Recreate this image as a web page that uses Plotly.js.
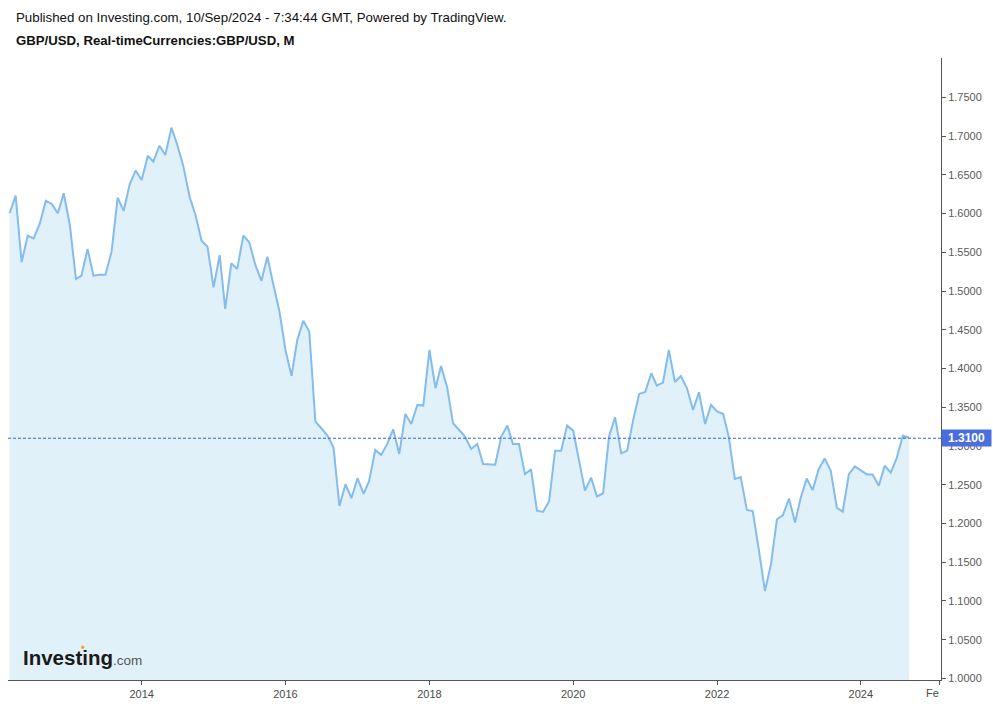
<!DOCTYPE html>
<html>
<head>
<meta charset="utf-8">
<script src="https://cdn.plot.ly/plotly-3.0.1.min.js"></script>
<style>
html,body{margin:0;padding:0;background:#fff;}
#chart{width:993px;height:704px;}
</style>
</head>
<body>
<div id="chart"></div>
<script>
// Monthly GBP/USD closes, Mar 2012 .. Sep 2024
const startYear = 2012;
const startMonth = 3;
const closes = [
  1.6003, 1.6230, 1.5371, 1.5714, 1.5680, 1.5865, 1.6166, 1.6123, 1.6003, 1.6261,           // 2012 Mar-Dec
  1.5852, 1.5155, 1.5198, 1.5543, 1.5198, 1.5211, 1.5211, 1.5508, 1.6205, 1.6033, 1.6377, 1.6553, // 2013
  1.6433, 1.6746, 1.6669, 1.6875, 1.6755, 1.7108, 1.6884, 1.6605, 1.6217, 1.5981, 1.5650, 1.5572, // 2014
  1.5048, 1.5465, 1.4768, 1.5358, 1.5285, 1.5714, 1.5629, 1.5336, 1.5130, 1.5443, 1.5078, 1.4743, // 2015
  1.4239, 1.3904, 1.4368, 1.4617, 1.4475, 1.3314, 1.3229, 1.3134, 1.2984, 1.2226, 1.2506, 1.2326, // 2016
  1.2584, 1.2381, 1.2549, 1.2949, 1.2885, 1.3027, 1.3216, 1.2897, 1.3414, 1.3285, 1.3530, 1.3521, // 2017
  1.4239, 1.3745, 1.4031, 1.3758, 1.3294, 1.3207, 1.3121, 1.2962, 1.3026, 1.2768, 1.2762, 1.2759, // 2018
  1.3121, 1.3263, 1.3026, 1.3026, 1.2635, 1.2700, 1.2166, 1.2149, 1.2287, 1.2940, 1.2940, 1.3263, // 2019
  1.3198, 1.2810, 1.2424, 1.2592, 1.2347, 1.2390, 1.3120, 1.3372, 1.2908, 1.2937, 1.3337, 1.3672, // 2020
  1.3697, 1.3939, 1.3779, 1.3818, 1.4240, 1.3826, 1.3904, 1.3745, 1.3465, 1.3693, 1.3284, 1.3529, // 2021
  1.3447, 1.3413, 1.3120, 1.2574, 1.2600, 1.2174, 1.2161, 1.1658, 1.1129, 1.1465, 1.2055, 1.2106, // 2022
  1.2321, 1.2012, 1.2326, 1.2580, 1.2430, 1.2701, 1.2839, 1.2684, 1.2203, 1.2152, 1.2633, 1.2736, // 2023
  1.2684, 1.2633, 1.2633, 1.2487, 1.2745, 1.2655, 1.2844, 1.3132, 1.3110                          // 2024 Jan-Sep
];
const lastPrice = 1.3100;
const yTickVals = [1.00,1.05,1.10,1.15,1.20,1.25,1.30,1.35,1.40,1.45,1.50,1.55,1.60,1.65,1.70,1.75];
const xTickVals = ['2014-01-01','2016-01-01','2018-01-01','2020-01-01','2022-01-01','2024-01-01','2025-02-01'];
const xTickText = ['2014','2016','2018','2020','2022','2024',''];

const dates = closes.map((_, i) => {
  const m0 = (startMonth - 1) + i;
  const y = startYear + Math.floor(m0 / 12);
  const m = (m0 % 12) + 1;
  return y + '-' + String(m).padStart(2, '0') + '-01';
});

const trace = {
  x: dates, y: closes, type: 'scatter', mode: 'lines',
  fill: 'tozeroy', fillcolor: '#e0f1fa',
  line: {color: '#84bcee', width: 2},
  hoverinfo: 'skip'
};

const FONT = 'Liberation Sans, Arial, sans-serif';
const layout = {
  width: 993, height: 704,
  margin: {l: 8, r: 52, t: 58, b: 24, pad: 0},
  paper_bgcolor: '#ffffff', plot_bgcolor: '#ffffff',
  showlegend: false,
  font: {family: FONT, size: 11, color: '#555'},
  xaxis: {
    type: 'date', range: ['2012-02-22', '2025-02-11'],
    tickmode: 'array', tickvals: xTickVals, ticktext: xTickText,
    showline: true, linecolor: '#555', linewidth: 1,
    ticks: 'outside', ticklen: 4, tickcolor: '#555',
    tickfont: {family: FONT, size: 11, color: '#4a4a4a'},
    showgrid: false, zeroline: false, fixedrange: true
  },
  yaxis: {
    side: 'right', range: [0.998, 1.8007],
    tickmode: 'array', tickvals: yTickVals, tickformat: '.4f',
    showline: true, linecolor: '#555', linewidth: 1,
    ticks: 'outside', ticklen: 4, tickcolor: '#555',
    tickfont: {family: FONT, size: 11, color: '#5a5a5a'},
    showgrid: false, zeroline: false, fixedrange: true
  },
  shapes: [
    {type: 'line', xref: 'paper', x0: 0, x1: 1, yref: 'y', y0: lastPrice, y1: lastPrice,
     line: {color: '#3d5fd9', width: 1, dash: '3px,2px'}, layer: 'above'},
    {type: 'circle', xref: 'paper', yref: 'paper', layer: 'above',
     x0: (81.0 - 8) / 933, x1: (84.4 - 8) / 933, y0: (680 - 649) / 622, y1: (680 - 645.6) / 622,
     fillcolor: '#f5a623', line: {width: 0}}
  ],
  annotations: [
    {xref: 'paper', yref: 'paper', x: (14 - 8) / 933, y: (680 - 17) / 622,
     xanchor: 'left', yanchor: 'middle', showarrow: false,
     text: 'Published on Investing.com, 10/Sep/2024 - 7:34:44 GMT, Powered by TradingView.',
     font: {family: FONT, size: 13.3, color: '#111'}},
    {xref: 'paper', yref: 'paper', x: (14 - 8) / 933, y: (680 - 40) / 622,
     xanchor: 'left', yanchor: 'middle', showarrow: false,
     text: '<b>GBP/USD, Real-timeCurrencies:GBP/USD, M</b>',
     font: {family: FONT, size: 13.2, color: '#111'}},
    {xref: 'paper', yref: 'paper', x: (21 - 8) / 933, y: (680 - 657) / 622,
     xanchor: 'left', yanchor: 'middle', showarrow: false,
     text: '<b>Investing</b><span style="font-size:13.5px;color:#555">.com</span>',
     font: {family: FONT, size: 20.5, color: '#1a1a1a'}},
    {xref: 'paper', yref: 'y', x: 1, y: lastPrice, xanchor: 'left', yanchor: 'middle',
     showarrow: false, text: '<b>1.3100</b>', bgcolor: '#4a6ee0',
     width: 46, height: 13, borderpad: 1.5, align: 'center',
     font: {family: FONT, size: 12, color: '#ffffff'}},
    {xref: 'paper', yref: 'paper', x: 1, y: 0, xanchor: 'right', yanchor: 'top',
     yshift: -5, showarrow: false, text: 'Fe',
     font: {family: FONT, size: 11, color: '#4a4a4a'}}
  ]
};

Plotly.newPlot('chart', [trace], layout, {displayModeBar: false, staticPlot: true});
</script>
</body>
</html>
